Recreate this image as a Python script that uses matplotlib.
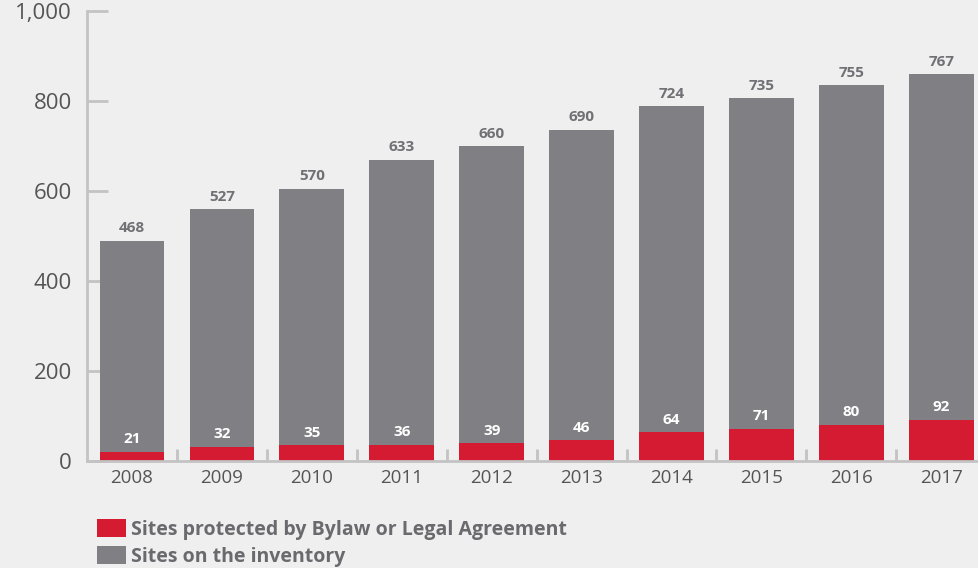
import matplotlib.pyplot as plt
import numpy as np

# data
years = ["2008", "2009", "2010", "2011", "2012", "2013", "2014", "2015", "2016", "2017"]
protected = [21, 32, 35, 36, 39, 46, 64, 71, 80, 92]
inventory = [468, 527, 570, 633, 660, 690, 724, 735, 755, 767]

red = "#d51b32"
grey = "#808084"
bg = "#efefef"
axis_col = "#c3c3c3"
txt_col = "#555555"

plt.rcParams['font.family'] = ['Open Sans', 'DejaVu Sans']

fig = plt.figure(figsize=(9.79, 5.68), dpi=100, facecolor=bg)
ax = fig.add_axes([87 / 979, 1 - 461 / 568, 1 - 87 / 979, (461 - 11) / 568])
ax.set_facecolor(bg)

x = np.arange(len(years))
w = 0.72
ax.bar(x, protected, w, color=red, label="Sites protected by Bylaw or Legal Agreement", zorder=2)
ax.bar(x, inventory, w, bottom=protected, color=grey, label="Sites on the inventory", zorder=2)

# value labels
for xi, p, inv in zip(x, protected, inventory):
    ax.annotate(str(inv), (xi, p + inv), xytext=(0, 4), textcoords="offset points",
                ha="center", va="bottom", fontsize=11, fontweight="bold", color="#707075")
    ax.annotate(str(p), (xi, p), xytext=(0, 4), textcoords="offset points",
                ha="center", va="bottom", fontsize=11, fontweight="bold", color="white")

ax.set_xlim(-0.5, 9.42)
ax.set_ylim(0, 1000)
ax.set_yticks([0, 200, 400, 600, 800, 1000])
ax.set_yticklabels(["0", "200", "400", "600", "800", "1,000"])
ax.tick_params(axis="y", direction="in", length=15, width=2, color=axis_col,
               labelsize=16, labelcolor=txt_col, pad=11)

ax.set_xticks(x)
ax.set_xticklabels(years)
ax.tick_params(axis="x", which="major", length=0, labelsize=13.5, labelcolor=txt_col, pad=6)
ax.set_xticks(x[:-1] + 0.5, minor=True)
ax.tick_params(axis="x", which="minor", direction="in", length=9, width=2, color=axis_col)

for s in ["top", "right"]:
    ax.spines[s].set_visible(False)
for s in ["left", "bottom"]:
    ax.spines[s].set_color(axis_col)
    ax.spines[s].set_linewidth(2)

handles, labels = ax.get_legend_handles_labels()
leg = fig.legend(handles, labels, loc="upper left", bbox_to_anchor=(97 / 979, 1 - 519 / 568),
                 frameon=False, fontsize=14, handlelength=1.5, handleheight=1.05,
                 handletextpad=0.25, labelspacing=0.35, borderaxespad=0, borderpad=0)
for t in leg.get_texts():
    t.set_color("#6a6a6e")
    t.set_fontweight("bold")

fig.savefig("out.png", dpi=100, facecolor=bg)
